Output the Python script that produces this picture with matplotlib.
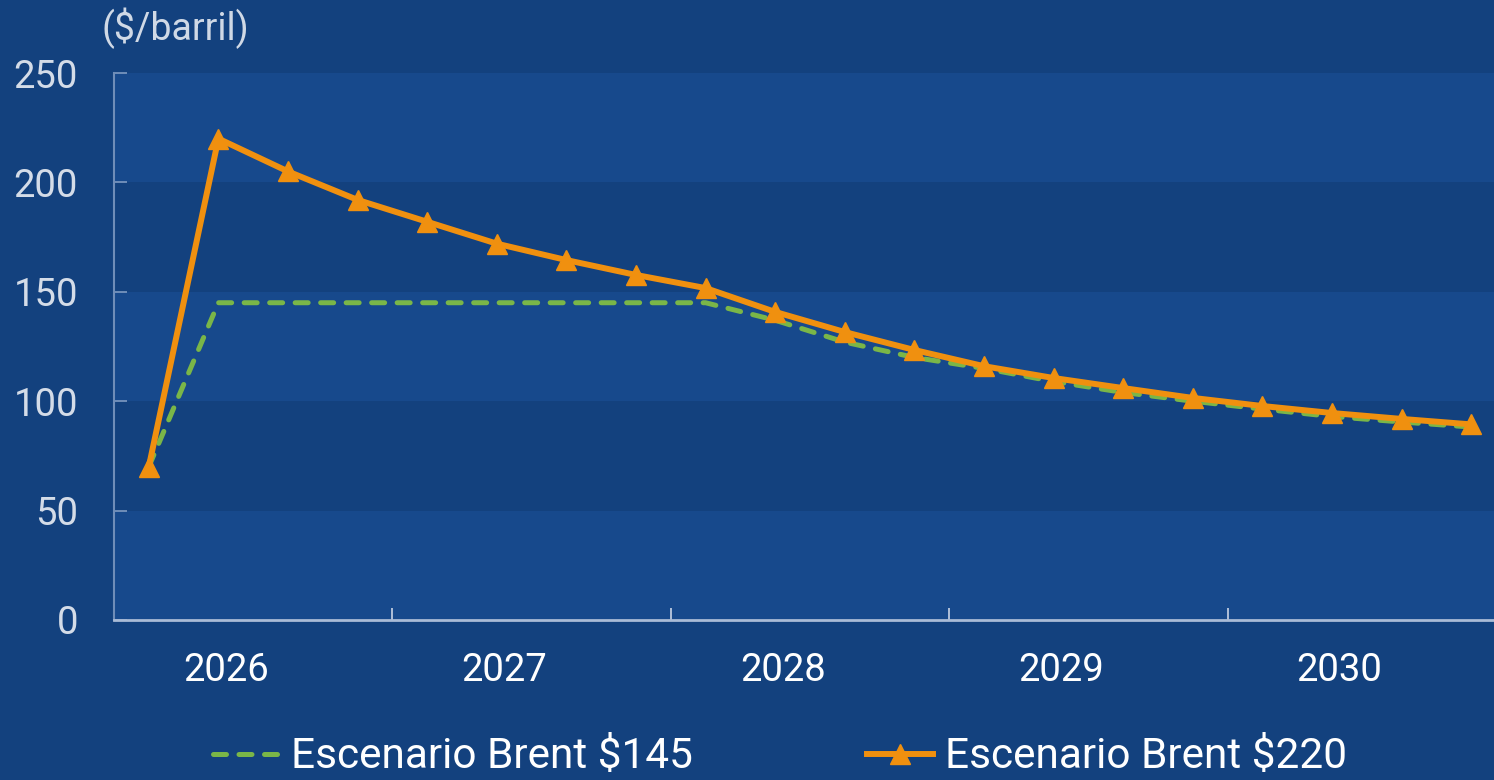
import matplotlib
matplotlib.use("Agg")
import matplotlib.pyplot as plt
from matplotlib.ticker import FixedLocator, NullFormatter, FixedFormatter

# ---- data ----
years = ["2026", "2027", "2028", "2029", "2030"]
quarters = list(range(20))
brent_145 = [70, 145, 145, 145, 145, 145, 145, 145, 145, 137, 127, 120, 115,
             109, 104, 100, 96.4, 93, 90.5, 88.2]
brent_220 = [70, 220, 205, 192, 182, 172, 164.5, 157.7, 151.7, 140.8, 131.6,
             123.4, 116, 110.6, 106, 101.5, 97.8, 94.6, 91.9, 89.4]
yticks = [0, 50, 100, 150, 200, 250]
label_145 = "Escenario Brent $145"
label_220 = "Escenario Brent $220"
unit_label = "($/barril)"

# ---- style ----
BG = "#13417E"
BAND = "#17498C"
GREEN = "#7AB648"
ORANGE = "#F0900F"
plt.rcParams["font.family"] = ["Roboto", "DejaVu Sans"]

W, H = 1494, 780
fig = plt.figure(figsize=(W / 100, H / 100), dpi=100, facecolor=BG)
left, right, top, bottom = 114, 1506, 73, 620
ax = fig.add_axes([left / W, 1 - bottom / H, (right - left) / W, (bottom - top) / H])
ax.set_facecolor(BG)

for lo in (0, 100, 200):
    ax.axhspan(lo, lo + 50, color=BAND, lw=0, zorder=0)

x = [q + 0.5 for q in quarters]
ax.plot(x, brent_145, color=GREEN, lw=3.6, dashes=(2.6, 2.5),
        dash_capstyle="round", solid_capstyle="round", label=label_145, zorder=3)
ax.plot(x, brent_220, color=ORANGE, lw=4.3, marker="^", markersize=14,
        mec=ORANGE, mfc=ORANGE, label=label_220, zorder=4, solid_joinstyle="miter")

ax.set_xlim(0, 20)
ax.set_ylim(0, 250)
ax.set_yticks(yticks)
ax.set_yticklabels([str(v) for v in yticks])
ax.tick_params(axis="y", direction="in", length=9, width=1.2, color="#7F9AC2",
               labelsize=27.5, labelcolor="#D4DCE8", pad=26)

ax.xaxis.set_major_locator(FixedLocator([0, 4, 8, 12, 16, 20]))
ax.xaxis.set_major_formatter(NullFormatter())
ax.xaxis.set_minor_locator(FixedLocator([1.61, 5.61, 9.61, 13.61, 17.61]))
ax.xaxis.set_minor_formatter(FixedFormatter(years))
ax.tick_params(axis="x", which="major", direction="in", length=9, width=1.2,
               color="#C9D4E6")
ax.tick_params(axis="x", which="minor", length=0, labelsize=27.5,
               labelcolor="white", pad=23)

for s in ("top", "right"):
    ax.spines[s].set_visible(False)
ax.spines["left"].set_color("#6F8DB8")
ax.spines["left"].set_linewidth(1.5)
ax.spines["bottom"].set_color("#A9BBD6")
ax.spines["bottom"].set_linewidth(2)

fig.text(102 / W, 1 - 28 / H, unit_label, ha="left", va="center",
         fontsize=27, color="#D0D9E6")

leg = fig.legend(loc="center left", bbox_to_anchor=(213 / W, 1 - 757 / H),
                 ncol=2, frameon=False, fontsize=30.5, labelcolor="white",
                 handlelength=1.55, handletextpad=0.3, columnspacing=4.1,
                 borderpad=0, borderaxespad=0)

fig.savefig("out.png", dpi=100, facecolor=BG)
